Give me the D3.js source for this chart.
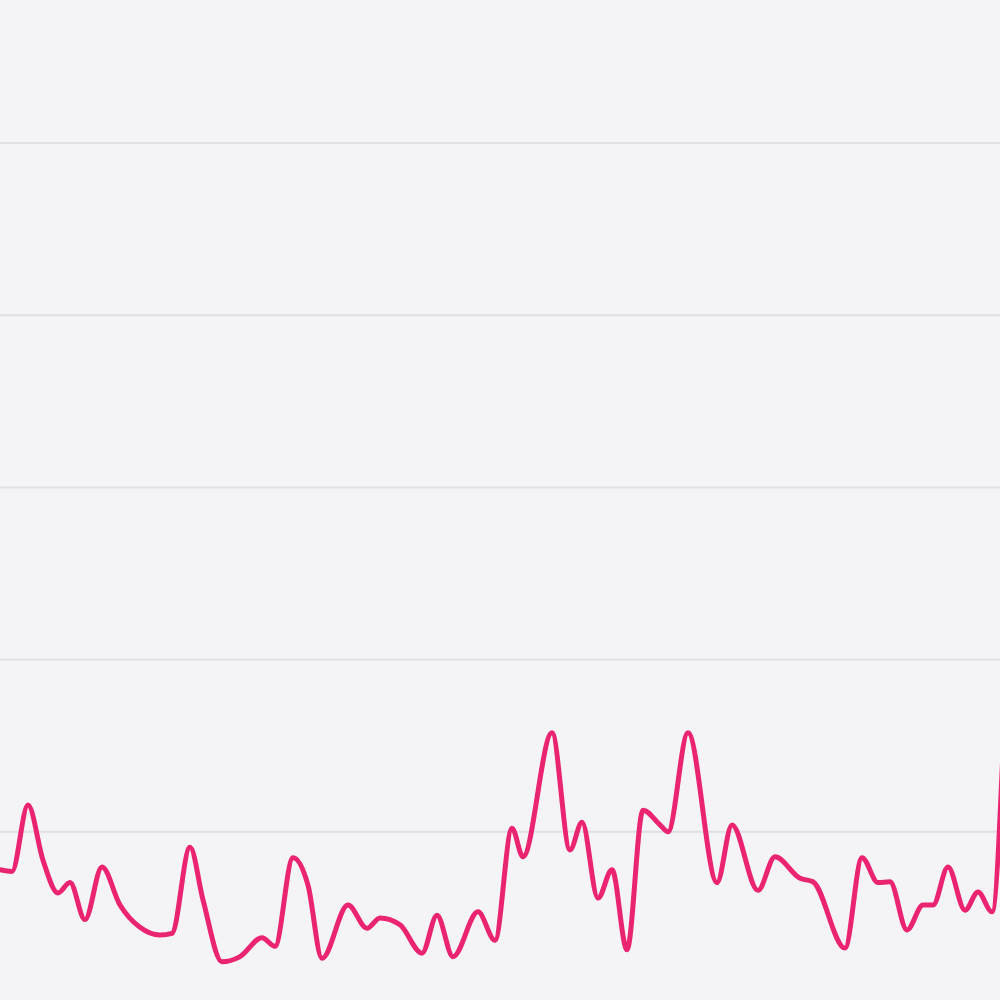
<!DOCTYPE html>
<html>
<head>
<meta charset="utf-8">
<script src="https://cdn.jsdelivr.net/npm/d3@7"></script>
<style>
  html, body { margin: 0; padding: 0; background: #f4f4f6; }
  svg { display: block; }
</style>
</head>
<body>
<div id="content"></div>
<script>
// sample positions (time units) and values
const times = [0, 1.2, 2.8, 4.3, 5.8, 7.0, 8.5, 10.2, 12.0, 14.0, 16.0, 17.2, 19.0, 20.3, 22.2, 24.0,
  26.2, 27.5, 29.3, 30.8, 32.2, 34.8, 36.7, 38.0, 40.0, 42.2, 43.7, 45.3, 47.8, 49.5, 51.2, 52.3,
  55.2, 57.0, 58.2, 59.8, 61.2, 62.7, 64.3, 66.0, 66.8, 68.8, 71.7, 73.2, 75.8, 77.5, 80.0, 81.3,
  84.5, 86.2, 87.8, 89.0, 90.7, 92.3, 93.3, 94.8, 96.5, 97.8, 99.2, 100.4];
const values = [15.6, 15.4, 23.1, 16.7, 12.9, 14.1, 9.8, 15.9, 11.5, 8.9, 8.0, 8.2, 18.2, 12.1, 4.9, 5.5,
  7.7, 6.7, 17.0, 13.8, 5.3, 11.5, 8.8, 10.0, 9.2, 5.9, 10.3, 5.5, 10.7, 7.4, 20.4, 17.1,
  31.5, 17.9, 21.1, 12.3, 15.6, 6.3, 22.5, 20.8, 20.0, 31.5, 14.1, 20.8, 13.2, 17.1, 14.6, 14.2,
  6.5, 17.0, 14.1, 14.2, 8.6, 11.5, 11.5, 15.9, 10.9, 13.0, 10.7, 32.0];
const gridValues = [20, 40, 60, 80, 100];

const w = 1000;
const h = 1000;

const xScale = d3.scaleLinear().domain([0, 100]).range([0, w]);
const yScale = d3.scaleLinear().domain([0, 100]).range([1004, 143]);

const svg = d3.select("#content")
  .append("svg")
  .attr("width", w)
  .attr("height", h);

svg.append("rect")
  .attr("width", w)
  .attr("height", h)
  .attr("fill", "#f4f4f6");

svg.append("g")
  .selectAll("line")
  .data(gridValues)
  .enter()
  .append("line")
  .attr("x1", 0)
  .attr("x2", w)
  .attr("y1", d => yScale(d))
  .attr("y2", d => yScale(d))
  .attr("stroke", "#dfdfe6")
  .attr("stroke-width", 2);

const line = d3.line()
  .x((d, i) => xScale(times[i]))
  .y(d => yScale(d))
  .curve(d3.curveMonotoneX);

svg.append("path")
  .datum(values)
  .attr("d", line)
  .attr("fill", "none")
  .attr("stroke", "#ea2470")
  .attr("stroke-width", 5)
  .attr("stroke-linejoin", "round")
  .attr("stroke-linecap", "round");
</script>
</body>
</html>
